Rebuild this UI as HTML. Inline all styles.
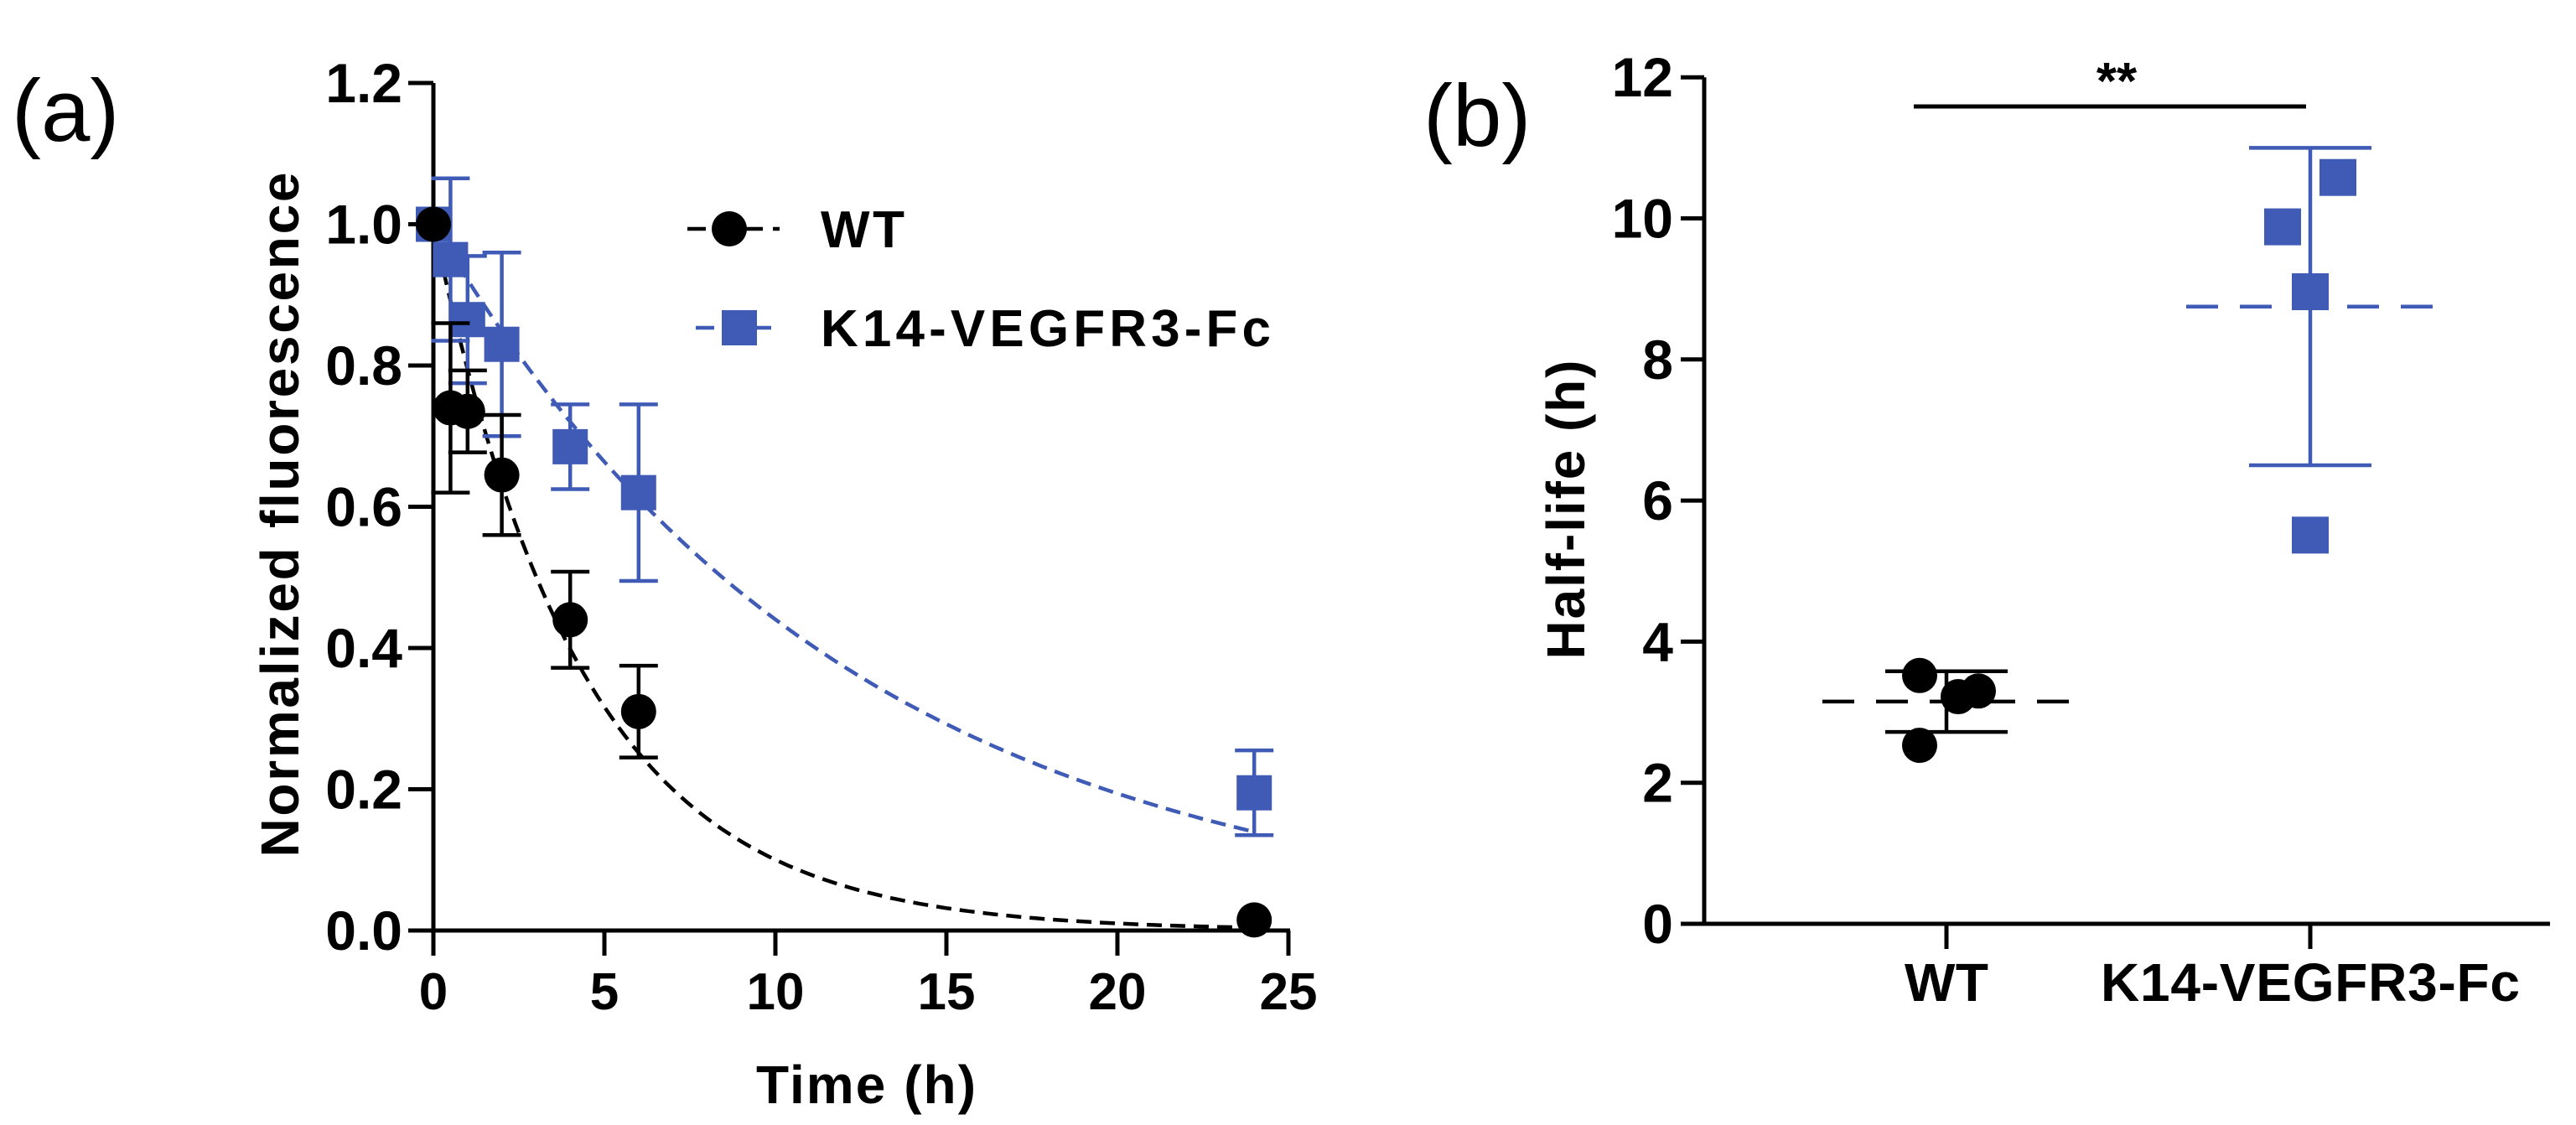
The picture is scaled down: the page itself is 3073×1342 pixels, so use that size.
<!DOCTYPE html>
<html><head><meta charset="utf-8"><style>
html,body{margin:0;padding:0;background:#fff;}
svg{display:block;}
text{font-family:"Liberation Sans Narrow","Liberation Sans",sans-serif;font-weight:bold;fill:#000;}
</style></head><body>
<svg id="fig" width="3073" height="1342" viewBox="0 0 3073 1342" xmlns="http://www.w3.org/2000/svg">
<text x="14" y="168" font-size="105" style="font-weight:normal;font-family:'Liberation Sans',sans-serif">(a)</text>
<text x="1698" y="174" font-size="105" style="font-weight:normal;font-family:'Liberation Sans',sans-serif">(b)</text>
<g id="pa"></g>
<g id="pb"></g>
</svg>
<script>
// Panel A data
const timesA = [0, 0.5, 1, 2, 4, 6, 24];
const wtMean = [1.0, 0.74, 0.735, 0.645, 0.44, 0.31, 0.015];
const wtErr = [0, 0.12, 0.058, 0.085, 0.068, 0.065, 0.0];
const k14Mean = [1.0, 0.95, 0.865, 0.83, 0.685, 0.62, 0.195];
const k14Err = [0, 0.115, 0.09, 0.13, 0.06, 0.125, 0.06];
const fitRates = [0.23, 0.082];
const xTicksA = [0, 5, 10, 15, 20, 25];
const yTicksA = [0, 0.2, 0.4, 0.6, 0.8, 1.0, 1.2];
const yTickLabelsA = ["0.0", "0.2", "0.4", "0.6", "0.8", "1.0", "1.2"];
// Panel B data
const groupsB = ["WT", "K14-VEGFR3-Fc"];
const wtHalf = [3.52, 2.53, 3.22, 3.30];
const wtJitter = [-0.32, -0.32, 0.14, 0.38];
const k14Half = [10.58, 9.88, 8.96, 5.51];
const k14Jitter = [0.22, -0.22, 0, 0];
const meansB = [3.15, 8.75];
const sdB = [0.43, 2.25];
const yTicksB = [0, 2, 4, 6, 8, 10, 12];

const NS = "http://www.w3.org/2000/svg";
const BLUE = "#3F5BB6";
function mk(parent, tag, attrs, txt) {
  const e = document.createElementNS(NS, tag);
  for (const k in attrs) e.setAttribute(k, attrs[k]);
  if (txt !== undefined) e.textContent = txt;
  parent.appendChild(e);
  return e;
}
// ---------- Panel A ----------
const pa = document.getElementById('pa');
const xA = t => 517 + t * 40.8;
const yA = v => 1110 - v * 842.5;
let el;
el = mk(pa, 'line', {x1: xA(0), y1: yA(0), x2: xA(0), y2: yA(1.2), stroke: '#000', 'stroke-width': 5});


el = mk(pa, 'line', {x1: xA(0) - 30, y1: yA(0), x2: xA(25) + 2, y2: yA(0), stroke: '#000', 'stroke-width': 5});


yTicksA.forEach((v, i) => {
  mk(pa, 'line', {x1: xA(0) - 30, y1: yA(v), x2: xA(0), y2: yA(v), stroke: '#000', 'stroke-width': 5});
  el = mk(pa, 'text', {x: 480, y: yA(v) + 23, 'font-size': 66, 'text-anchor': 'end'}, yTickLabelsA[i]);
  
  
});
xTicksA.forEach(t => {
  mk(pa, 'line', {x1: xA(t), y1: yA(0), x2: xA(t), y2: yA(0) + 30, stroke: '#000', 'stroke-width': 5});
  el = mk(pa, 'text', {x: xA(t), y: 1204, 'font-size': 62, 'text-anchor': 'middle'}, String(t));
  
  
});
el = mk(pa, 'text', {x: 1033, y: 1316, 'font-size': 64, 'text-anchor': 'middle', textLength: 262}, 'Time (h)');


el = mk(pa, 'text', {x: 0, y: 0, 'font-size': 64, 'text-anchor': 'middle', textLength: 817, transform: 'translate(356,614) rotate(-90)'}, 'Normalized fluorescence');


// fit curves
[[fitRates[0], '#000', 'fit-curve-wt'], [fitRates[1], BLUE, 'fit-curve-k14']].forEach(([k, c, n]) => {
  let d = '';
  for (let t = 0; t <= 24; t += 0.2) d += (t === 0 ? 'M' : 'L') + xA(t).toFixed(1) + ',' + yA(Math.exp(-k * t)).toFixed(1);
  el = mk(pa, 'path', {d: d, fill: 'none', stroke: c, 'stroke-width': 4.5, 'stroke-dasharray': '18,10'});
  
  
});
function errBar(g, x, m, e, c, hw) {
  if (e <= 0) return;
  mk(g, 'line', {x1: x, y1: yA(m - e), x2: x, y2: yA(m + e), stroke: c, 'stroke-width': 4.5});
  mk(g, 'line', {x1: x - hw, y1: yA(m + e), x2: x + hw, y2: yA(m + e), stroke: c, 'stroke-width': 4.5});
  mk(g, 'line', {x1: x - hw, y1: yA(m - e), x2: x + hw, y2: yA(m - e), stroke: c, 'stroke-width': 4.5});
}
timesA.forEach((t, i) => {
  errBar(pa, xA(t), k14Mean[i], k14Err[i], BLUE, 23);
  el = mk(pa, 'rect', {x: xA(t) - 21, y: yA(k14Mean[i]) - 21, width: 42, height: 42, fill: BLUE});
  
  
});
timesA.forEach((t, i) => {
  errBar(pa, xA(t), wtMean[i], wtErr[i], '#000', 23);
  el = mk(pa, 'circle', {cx: xA(t), cy: yA(wtMean[i]), r: 21, fill: '#000'});
  
  
});
// legend
el = mk(pa, 'g', {});


mk(el, 'path', {d: 'M820,273 L930,273', stroke: '#000', 'stroke-width': 4.5, 'stroke-dasharray': '22,12'});
mk(el, 'circle', {cx: 870, cy: 273, r: 21, fill: '#000'});
mk(el, 'text', {x: 979, y: 295, 'font-size': 62, textLength: 100}, 'WT');
mk(el, 'path', {d: 'M830,391 L930,391', stroke: BLUE, 'stroke-width': 4.5, 'stroke-dasharray': '22,12'});
mk(el, 'rect', {x: 861, y: 370, width: 42, height: 42, fill: BLUE});
mk(el, 'text', {x: 979, y: 413, 'font-size': 62, textLength: 537}, 'K14-VEGFR3-Fc');

// ---------- Panel B ----------
const pb = document.getElementById('pb');
const xB = i => 2322 + i * 434;
const yB = v => 1102 - v * 84.15;
el = mk(pb, 'line', {x1: 2033, y1: yB(0), x2: 2033, y2: yB(12), stroke: '#000', 'stroke-width': 5});


el = mk(pb, 'line', {x1: 2005, y1: yB(0), x2: 3042, y2: yB(0), stroke: '#000', 'stroke-width': 5});


yTicksB.forEach(v => {
  mk(pb, 'line', {x1: 2005, y1: yB(v), x2: 2033, y2: yB(v), stroke: '#000', 'stroke-width': 5});
  el = mk(pb, 'text', {x: 1996, y: yB(v) + 23, 'font-size': 66, 'text-anchor': 'end'}, String(v));
  
  
});
groupsB.forEach((g, i) => {
  mk(pb, 'line', {x1: xB(i), y1: yB(0), x2: xB(i), y2: yB(0) + 30, stroke: '#000', 'stroke-width': 5});
  el = mk(pb, 'text', {x: xB(i), y: 1194, 'font-size': 64, 'text-anchor': 'middle', textLength: i === 0 ? 100 : 500}, g);
  
  
});
el = mk(pb, 'text', {x: 0, y: 0, 'font-size': 64, 'text-anchor': 'middle', textLength: 357, transform: 'translate(1890,608) rotate(-90)'}, 'Half-life (h)');


// significance
el = mk(pb, 'line', {x1: 2283, y1: 127, x2: 2751, y2: 127, stroke: '#000', 'stroke-width': 5});


el = mk(pb, 'text', {x: 2525, y: 118, 'font-size': 62, 'text-anchor': 'middle'}, '**');


function meanSd(i, c) {
  const x = xB(i);
  mk(pb, 'line', {x1: x - 148, y1: yB(meansB[i]), x2: x + 150, y2: yB(meansB[i]), stroke: c, 'stroke-width': 4.5, 'stroke-dasharray': '38,26'});
  mk(pb, 'line', {x1: x, y1: yB(meansB[i] - sdB[i]), x2: x, y2: yB(meansB[i] + sdB[i]), stroke: c, 'stroke-width': 4.5});
  mk(pb, 'line', {x1: x - 73, y1: yB(meansB[i] + sdB[i]), x2: x + 73, y2: yB(meansB[i] + sdB[i]), stroke: c, 'stroke-width': 4.5});
  mk(pb, 'line', {x1: x - 73, y1: yB(meansB[i] - sdB[i]), x2: x + 73, y2: yB(meansB[i] - sdB[i]), stroke: c, 'stroke-width': 4.5});
}
meanSd(0, '#000');
meanSd(1, BLUE);
wtHalf.forEach((v, j) => {
  el = mk(pb, 'circle', {cx: xB(0) + wtJitter[j] * 100, cy: yB(v), r: 21, fill: '#000'});
  
  
});
k14Half.forEach((v, j) => {
  el = mk(pb, 'rect', {x: xB(1) + k14Jitter[j] * 150 - 22, y: yB(v) - 22, width: 44, height: 44, fill: BLUE});
  
  
});
</script>
</body></html>
